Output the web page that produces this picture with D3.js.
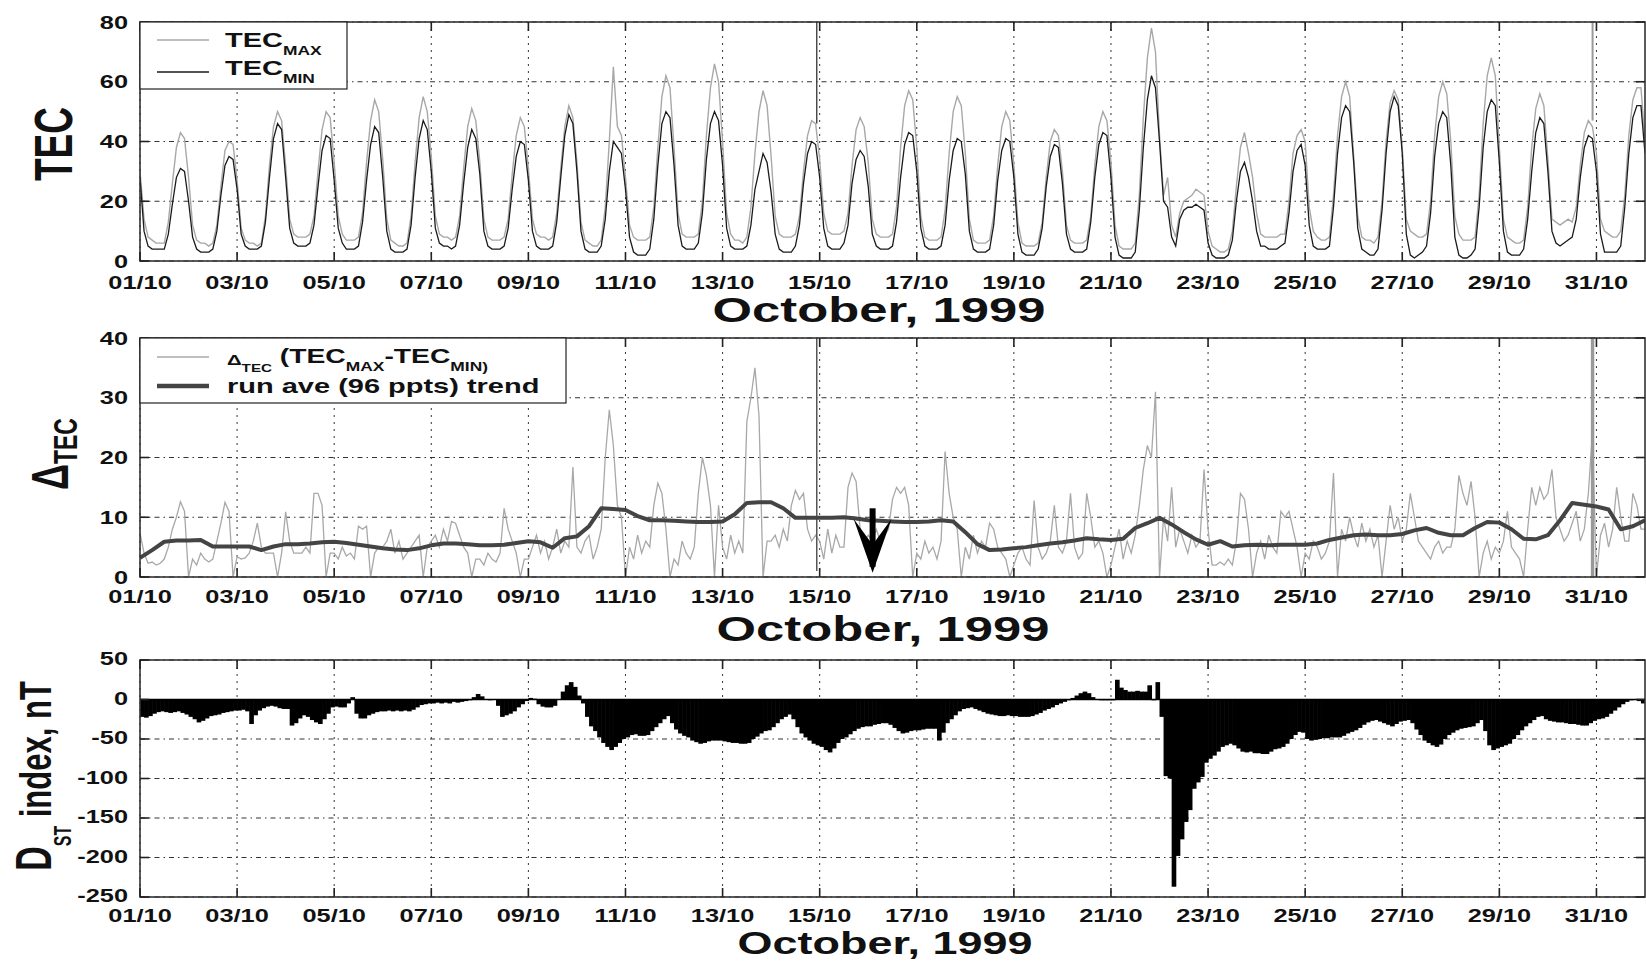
<!DOCTYPE html>
<html><head><meta charset="utf-8">
<script src="https://cdn.jsdelivr.net/npm/d3@7"></script>
<style>
body{margin:0;background:#fff}
svg{display:block}
text{font-family:"Liberation Sans",Arial,Helvetica,sans-serif;font-weight:bold;fill:#111}
</style>
</head><body>
<svg id="c" width="1646" height="961"></svg>
<script>
// ---------------- DATA ----------------
const STEP_H = 2;            // series sampled every 2 hours from 01/10/1999 00 UT
const RUN_STEP_H = 6;        // running average sampled every 6 hours
const dateTickLabels = ["01/10","03/10","05/10","07/10","09/10","11/10","13/10","15/10","17/10","19/10","21/10","23/10","25/10","27/10","29/10","31/10"];
const tecTicks = [0,20,40,60,80];
const deltaTicks = [0,10,20,30,40];
const dstTicks = [50,0,-50,-100,-150,-200,-250];
const xTitle = "October, 1999";

const tecMax = [
30,14,8,7,6,6,6,13,26,38,43,41,
28,12,7,6,6,5,6,12,25,37,40,39,
27,11,7,6,6,5,6,15,32,45,50,47,
32,14,9,8,8,8,9,15,30,44,50,48,
33,15,9,7,7,7,8,16,33,47,54,50,
34,14,7,6,5,5,6,15,33,48,55,50,
35,15,9,8,8,7,8,15,31,45,51,47,
33,14,8,7,7,7,8,14,29,42,48,45,
31,14,9,8,8,7,8,16,31,45,52,48,
33,13,7,6,5,5,7,18,40,65,45,42,
28,12,8,7,7,7,8,18,38,55,62,58,
38,16,9,8,8,8,9,20,42,58,66,60,
40,16,9,7,7,6,8,18,36,50,57,52,
35,15,9,8,8,8,9,15,30,42,47,46,
34,16,10,9,9,9,10,16,32,44,48,45,
33,14,9,8,8,8,9,18,38,52,57,54,
38,15,8,7,7,7,8,17,36,50,55,52,
36,14,7,6,6,6,7,15,32,45,50,47,
32,13,6,5,5,5,6,13,28,40,44,42,
30,12,7,6,6,6,7,15,32,45,50,47,
33,12,5,4,4,4,6,22,48,68,78,70,
42,22,28,12,8,16,20,21,22,24,23,22,
10,5,4,3,3,4,10,25,38,43,36,28,
16,9,8,8,8,8,9,9,20,36,42,44,
40,18,10,8,7,7,8,22,42,55,60,55,
35,15,8,7,7,6,8,20,40,53,57,54,
38,14,10,9,8,8,9,20,42,55,60,56,
40,15,9,7,7,7,8,22,46,62,68,62,
38,14,8,7,6,6,7,18,38,51,56,52,
34,14,13,12,13,14,13,18,32,43,47,45,
36,14,10,9,8,8,10,22,42,54,58,58,
40];

const tecMin = [
28,10,5,4,4,4,4,9,19,28,31,30,
20,8,4,3,3,3,4,10,22,32,35,34,
24,9,5,4,4,4,5,13,28,41,46,44,
28,11,6,5,5,5,6,12,25,37,42,41,
27,11,6,4,4,4,5,13,27,39,45,43,
28,10,4,3,3,3,4,12,28,41,47,44,
30,11,6,5,5,4,5,12,26,38,44,41,
29,10,5,4,4,4,5,11,24,35,40,39,
27,10,5,4,4,4,5,13,28,42,49,46,
30,10,4,3,3,3,5,14,30,40,38,36,
24,8,3,2,2,2,4,14,32,46,50,48,
32,12,5,4,4,4,6,16,34,46,50,47,
32,11,5,4,4,4,5,12,24,30,36,33,
23,9,4,3,3,3,5,12,26,36,40,39,
28,11,5,4,4,4,6,12,26,34,37,35,
25,9,5,4,4,4,5,13,28,39,43,42,
30,11,5,4,4,4,5,12,27,37,41,40,
29,10,4,3,3,3,4,12,27,37,41,40,
28,9,3,2,2,2,4,11,25,35,39,38,
26,9,4,3,3,3,4,13,28,39,43,42,
28,8,2,1,1,1,3,17,38,54,62,58,
40,20,18,8,5,14,17,18,18,19,18,17,
6,2,1,1,1,2,7,20,30,33,28,20,
10,5,5,4,4,4,5,6,16,30,37,39,
32,12,5,4,4,4,5,18,36,48,52,50,
33,11,4,3,2,2,4,17,36,50,55,52,
36,9,2,1,2,3,5,16,35,46,50,48,
32,8,2,1,1,2,4,18,38,50,54,52,
33,10,3,2,2,2,4,14,30,43,48,46,
30,10,6,5,6,7,8,14,28,38,42,41,
30,9,3,3,3,3,5,18,36,48,52,52,
36];

const deltaTec = [
7.4,4,2.3,2.5,2,2.3,3,5,8,10,12.6,11,
0,3,2,4,3,2.5,3,6,9,12.5,11,0,
3.4,3,3.2,4,6,9,5,4,4,4,0,4,
10.9,6,4,4,4,5,4,14,14,12,0,4,
4,3,5,3.5,4,3,8.5,8,8.5,0,4,5,
5,6,8,4,6,3,4,5,6,7,0,5,
6,7,5,8,6,9.3,9,7,5,4,0,3,
3,2,4,3,2.5,4,11.5,8,6,4,0,3,
3,5,7,4,6,3,5,8,4,6,5,18.4,
5,4,6,7,3,5,8,20,28,22,12,10,
0,5,3,7,4,6,5,12,15.7,14,8,0,
3,2,6,4,3,5,14,20,17,12,0,12,
5,3,7,4,6,4,26,30,35,27,0,6,
6,7,5,8,6,12,14.5,13,14,8,6,7,
6,3,8,4,7,5,5,15,17.4,16,8,6,
7,6,8,6,7,8,13,15,14,15,12,0,
4,3,6,4,5,3,6,21,14,10,8,0,
5,3,7,4,6,5,9,8,5,4,3,0,
2,4,5,3,2,12.8,5,3,4,6,12,5,
4,6,14,5,3,4,14,10,5,6,4,0,
2,5,8,3,6,4,7,12,18,22,20,31,
0,10,6,15,5,8,6,4,7,5,6,18,
8,2,2,2.5,2,3,2,6,14,13,8,0,
4,6,3,7,5,4,11,10,11,8,5,0,
4,3,6,5,3,4,6,17.4,0,8,6,10,
7,5,9,6,8,5,7,0,6,12,8,10,
6,8,14,10,6,5,4,3,5,6,4,5,
5,8,17,14,12,16,10,0,4,6,3,5,
4,6,11,5,4,3,0,8,15,12,15,13,
14,18,10,8,6,7,9,11,6,8,14,24,
0,7,9,5,8,15,10,6,6,14,12,8,
8];

const runAve = [
3.2,4.5,5.9,6.1, 6.1,6.2,5.1,5.1, 5.1,5.1,4.5,5.1, 5.5,5.5,5.6,5.8,
5.9,5.7,5.4,5.1, 4.8,4.6,4.5,4.8, 5.3,5.6,5.6,5.5, 5.3,5.3,5.4,5.7,
6.0,5.8,4.9,6.5, 6.8,8.5,11.5,11.4, 11.2,10.2,9.5,9.5, 9.4,9.3,9.2,9.2,
9.3,10.5,12.4,12.5, 12.5,11.5,9.9,9.9, 9.9,9.9,10,9.8, 9.5,9.4,9.3,9.2,
9.2,9.3,9.5,9.3, 7.5,5.5,4.5,4.6, 4.8,5.0,5.3,5.6, 5.8,6.1,6.5,6.3,
6.2,6.4,8.2,9.0, 9.9,8.8,7.5,6.3, 5.4,6.0,5.1,5.3, 5.4,5.3,5.4,5.4,
5.4,5.6,6.2,6.6, 7.0,7.1,7.0,7.0, 7.2,7.8,8.2,7.4, 7.0,7.0,8.2,9.2,
9.1,8.0,6.4,6.3, 7.0,9.5,12.4,12.1, 11.8,11.3,8.0,8.5, 9.5];

const dst = [
-22,-23,-21,-18,-16,-15,-16,-17,-16,-15,-17,-19,
-22,-25,-29,-27,-24,-21,-20,-19,-17,-16,-15,-14,
-14,-13,-15,-31,-20,-14,-11,-9,-8,-9,-11,-12,
-12,-33,-30,-24,-20,-22,-26,-29,-31,-25,-18,-10,
-9,-10,-10,-5,3,-18,-24,-24,-20,-18,-16,-15,
-15,-14,-15,-14,-15,-14,-15,-13,-10,-7,-6,-5,
-5,-4,-5,-4,-5,-3,-4,-3,-2,-1,3,7,
4,0,-1,0,-8,-22,-20,-18,-15,-10,-6,-2,
2,1,-6,-9,-10,-10,-8,0,10,18,22,16,
5,-5,-22,-34,-40,-48,-55,-60,-64,-60,-55,-50,
-48,-45,-44,-46,-46,-45,-40,-35,-30,-25,-21,-30,
-38,-43,-46,-48,-52,-54,-56,-55,-53,-52,-52,-52,
-53,-54,-55,-55,-56,-56,-55,-50,-47,-43,-40,-39,
-35,-30,-25,-22,-19,-25,-35,-43,-48,-52,-56,-58,
-60,-64,-67,-62,-55,-50,-48,-44,-40,-37,-35,-34,
-34,-32,-31,-30,-30,-32,-36,-40,-43,-42,-40,-39,
-39,-38,-37,-37,-37,-52,-42,-30,-25,-20,-15,-12,
-11,-10,-12,-14,-16,-18,-19,-20,-21,-21,-20,-21,
-21,-22,-22,-22,-21,-19,-17,-14,-12,-10,-7,-5,
-3,-1,2,5,8,10,8,3,0,-1,-1,-1,
-1,25,15,12,10,10,11,10,10,18,-1,22,
-22,-97,-100,-237,-198,-177,-155,-140,-113,-105,-98,-80,
-75,-71,-66,-60,-58,-56,-58,-62,-66,-67,-66,-68,
-68,-69,-69,-66,-63,-62,-60,-56,-50,-45,-41,-42,
-50,-52,-51,-50,-49,-49,-48,-48,-48,-46,-43,-41,
-39,-36,-32,-29,-27,-26,-28,-30,-32,-34,-31,-28,
-27,-26,-30,-38,-45,-52,-55,-58,-60,-57,-50,-45,
-42,-39,-37,-36,-35,-34,-30,-26,-40,-58,-64,-62,
-60,-58,-56,-50,-45,-39,-34,-30,-26,-22,-21,-25,
-27,-28,-29,-29,-30,-31,-31,-32,-33,-33,-30,-27,
-25,-24,-22,-18,-14,-10,-6,-3,-1,0,-2,-5,
-7];

// data glitches drawn as vertical segments: [day offset, low value, high value]
const tecMinGlitches = [[13.94, 46, 80]];
const tecMaxGlitches = [[29.92, 47, 80]];
const deltaGlitches = [[13.94, 1, 40], [29.90, 0, 40], [29.92, 0, 40], [29.94, 0, 40]];
// annotation arrow in the ΔTEC panel: [day offset, value at tail, value at tip]
const arrowNote = [15.09, 11.5, 0.7];

// ---------------- CHART ----------------
const svg = d3.select('#c');
const SX = 1.45; // horizontal stretch of the original lettering
const T0 = Date.UTC(1999, 9, 1), HOUR = 36e5;
const tStep = (i, h) => new Date(T0 + i * h * HOUR);
const tDay = d => new Date(T0 + d * 24 * HOUR);
const x = d3.scaleUtc().domain([new Date(T0), new Date(Date.UTC(1999, 10, 1))]).range([140, 1645]);
const dateTicks = dateTickLabels.map(s => { const [d, m] = s.split('/').map(Number); return new Date(Date.UTC(1999, m - 1, d)); });
const [X0, X1] = x.range();

function sText(g, px, py, str, size, anchor) {
  return g.append('text').attr('transform', `translate(${px},${py}) scale(${SX},1)`)
    .attr('text-anchor', anchor || 'middle').style('font-size', size + 'px').text(str);
}
const defs = svg.append('defs');

function panel(p) {
  const y = d3.scaleLinear().domain(p.domain).range([p.bottom, p.top]);
  const g = svg.append('g');
  defs.append('clipPath').attr('id', 'clip' + p.key).append('rect')
    .attr('x', X0).attr('y', p.top).attr('width', X1 - X0).attr('height', p.bottom - p.top);
  // grid
  g.append('g').selectAll('line').data(dateTicks).join('line')
    .attr('x1', d => x(d)).attr('x2', d => x(d)).attr('y1', p.top).attr('y2', p.bottom)
    .attr('stroke', '#333').attr('stroke-width', 1).attr('stroke-dasharray', '2,5');
  g.append('g').selectAll('line').data(p.ticks).join('line')
    .attr('x1', X0).attr('x2', X1).attr('y1', d => y(d)).attr('y2', d => y(d))
    .attr('stroke', '#333').attr('stroke-width', 1).attr('stroke-dasharray', '5,4,1.5,4');
  const dg = g.append('g').attr('clip-path', `url(#clip${p.key})`);
  p.draw(dg, y);
  // frame
  g.append('rect').attr('x', X0).attr('y', p.top).attr('width', X1 - X0).attr('height', p.bottom - p.top)
    .attr('fill', 'none').attr('stroke', '#333').attr('stroke-width', 1.6);
  const tk = g.append('g').attr('stroke', '#222').attr('stroke-width', 1.6);
  p.ticks.forEach(v => {
    tk.append('line').attr('x1', X0).attr('x2', X0 + 9).attr('y1', y(v)).attr('y2', y(v));
    tk.append('line').attr('x1', X1 - 9).attr('x2', X1).attr('y1', y(v)).attr('y2', y(v));
  });
  dateTicks.forEach(d => {
    tk.append('line').attr('x1', x(d)).attr('x2', x(d)).attr('y1', p.bottom).attr('y2', p.bottom - 9);
    tk.append('line').attr('x1', x(d)).attr('x2', x(d)).attr('y1', p.top).attr('y2', p.top + 9);
  });
  // labels
  p.ticks.forEach(v => sText(g, 128, y(v) + p.labelDy, String(v), 17.5, 'end'));
  dateTicks.forEach((d, i) => sText(g, x(d), p.tickBase, dateTickLabels[i], 17.5, 'middle'));
  sText(g, p.titleX, p.titleBase, xTitle, p.titleSize || 35, 'middle');
  p.extra(g, y);
}

const lineOf = (y, h) => d3.line().x((d, i) => x(tStep(i, h))).y(d => y(d));

// ---- Panel 1: TEC ----
panel({
  key: 'a', top: 22, bottom: 261, domain: [0, 80], ticks: tecTicks, labelDy: 6.5, tickBase: 289, titleBase: 322, titleX: 879,
  draw(g, y) {
    g.append('path').datum(tecMax).attr('d', lineOf(y, STEP_H)).attr('fill', 'none').attr('stroke', '#a8a8a8').attr('stroke-width', 1.4);
    g.append('path').datum(tecMin).attr('d', lineOf(y, STEP_H)).attr('fill', 'none').attr('stroke', '#1a1a1a').attr('stroke-width', 1.3);
    g.selectAll('.gmin').data(tecMinGlitches).join('line').attr('x1', d => x(tDay(d[0]))).attr('x2', d => x(tDay(d[0])))
      .attr('y1', d => y(d[1])).attr('y2', d => y(d[2])).attr('stroke', '#333').attr('stroke-width', 1.3);
    g.selectAll('.gmax').data(tecMaxGlitches).join('line').attr('x1', d => x(tDay(d[0]))).attr('x2', d => x(tDay(d[0])))
      .attr('y1', d => y(d[1])).attr('y2', d => y(d[2])).attr('stroke', '#999').attr('stroke-width', 2);
  },
  extra(g, y) {
    const lg = g.append('g');
    lg.append('rect').attr('x', X0).attr('y', 22).attr('width', 207).attr('height', 67).attr('fill', '#fff').attr('stroke', '#222').attr('stroke-width', 1.2);
    lg.append('line').attr('x1', 157).attr('x2', 209).attr('y1', 40).attr('y2', 40).attr('stroke', '#a8a8a8').attr('stroke-width', 1.4);
    lg.append('line').attr('x1', 157).attr('x2', 209).attr('y1', 72).attr('y2', 72).attr('stroke', '#1a1a1a').attr('stroke-width', 1.4);
    const t1 = lg.append('text').attr('transform', `translate(225,47) scale(${SX},1)`);
    t1.append('tspan').style('font-size', '20px').text('TEC');
    t1.append('tspan').attr('dy', 8).style('font-size', '12px').text('MAX');
    const t2 = lg.append('text').attr('transform', `translate(225,75) scale(${SX},1)`);
    t2.append('tspan').style('font-size', '20px').text('TEC');
    t2.append('tspan').attr('dy', 8).style('font-size', '12px').text('MIN');
    g.append('text').attr('transform', `translate(72,144) scale(${SX},1) rotate(-90)`).attr('text-anchor', 'middle')
      .style('font-size', '37px').text('TEC');
  }
});

// ---- Panel 2: ΔTEC ----
panel({
  key: 'b', top: 338, bottom: 577, domain: [0, 40], ticks: deltaTicks, labelDy: 6.5, tickBase: 603, titleBase: 641, titleX: 883,
  draw(g, y) {
    g.append('path').datum(deltaTec).attr('d', lineOf(y, STEP_H)).attr('fill', 'none').attr('stroke', '#a8a8a8').attr('stroke-width', 1.3);
    g.selectAll('.gd').data(deltaGlitches).join('line').attr('x1', d => x(tDay(d[0]))).attr('x2', d => x(tDay(d[0])))
      .attr('y1', d => y(d[1])).attr('y2', d => y(d[2])).attr('stroke', (d, i) => i === 0 ? '#555' : '#999').attr('stroke-width', 1.5);
    g.append('path').datum(runAve).attr('d', lineOf(y, RUN_STEP_H)).attr('fill', 'none').attr('stroke', '#444').attr('stroke-width', 4).attr('stroke-linejoin', 'round');
    // arrow annotation
    const ax = x(tDay(arrowNote[0])), ay0 = y(arrowNote[1]), ay1 = y(arrowNote[2]);
    g.append('line').attr('x1', ax).attr('x2', ax).attr('y1', ay0).attr('y2', ay1 - 6).attr('stroke', '#000').attr('stroke-width', 6);
    g.append('path').attr('d', `M${ax - 19},${ay1 - 54} L${ax},${ay1} L${ax + 19},${ay1 - 54} L${ax},${ay1 - 28} Z`).attr('fill', '#000');
  },
  extra(g, y) {
    const lg = g.append('g');
    lg.append('rect').attr('x', X0).attr('y', 338).attr('width', 426).attr('height', 65).attr('fill', '#fff').attr('stroke', '#222').attr('stroke-width', 1.2);
    lg.append('line').attr('x1', 157).attr('x2', 209).attr('y1', 357).attr('y2', 357).attr('stroke', '#a8a8a8').attr('stroke-width', 1.4);
    lg.append('line').attr('x1', 157).attr('x2', 209).attr('y1', 386).attr('y2', 386).attr('stroke', '#444').attr('stroke-width', 4.5);
    const t1 = lg.append('text').attr('transform', `translate(227,363) scale(${SX},1)`);
    t1.append('tspan').attr('dy', 2).style('font-size', '14px').text('Δ');
    t1.append('tspan').attr('dy', 7).style('font-size', '10.5px').text('TEC');
    t1.append('tspan').attr('dy', -9).style('font-size', '19.5px').text(' (TEC');
    t1.append('tspan').attr('dy', 8).style('font-size', '12px').text('MAX');
    t1.append('tspan').attr('dy', -8).style('font-size', '19.5px').text('-TEC');
    t1.append('tspan').attr('dy', 8).style('font-size', '12px').text('MIN)');
    sText(lg, 227, 393, 'run ave (96 ppts) trend', 20, 'start');
    const yt = g.append('text').attr('transform', `translate(68,454) scale(${SX},1) rotate(-90)`).attr('text-anchor', 'middle');
    yt.append('tspan').style('font-size', '36px').text('Δ');
    yt.append('tspan').attr('dy', 6).style('font-size', '23px').text('TEC');
  }
});

// ---- Panel 3: Dst ----
panel({
  key: 'c', top: 660, bottom: 897, domain: [-250, 50], ticks: dstTicks, labelDy: 5, tickBase: 922, titleBase: 954, titleX: 885, titleSize: 31,
  draw(g, y) {
    g.append('g').selectAll('rect').data(dst).join('rect')
      .attr('x', (d, i) => x(tStep(i, STEP_H)))
      .attr('width', (d, i) => x(tStep(i + 1, STEP_H)) - x(tStep(i, STEP_H)) + 0.6)
      .attr('y', d => Math.min(y(d), y(0)))
      .attr('height', d => Math.abs(y(d) - y(0)))
      .attr('fill', '#000');
    g.append('line').attr('x1', X0).attr('x2', X1).attr('y1', y(0)).attr('y2', y(0)).attr('stroke', '#000').attr('stroke-width', 1.5);
  },
  extra(g, y) {
    const yt = g.append('text').attr('transform', `translate(51,776) scale(${SX},1) rotate(-90)`).attr('text-anchor', 'middle');
    yt.append('tspan').style('font-size', '34px').text('D');
    yt.append('tspan').attr('dy', 14).style('font-size', '16px').text('ST');
    yt.append('tspan').attr('dy', -14).style('font-size', '31px').text(' index, nT');
  }
});
</script>
</body></html>
